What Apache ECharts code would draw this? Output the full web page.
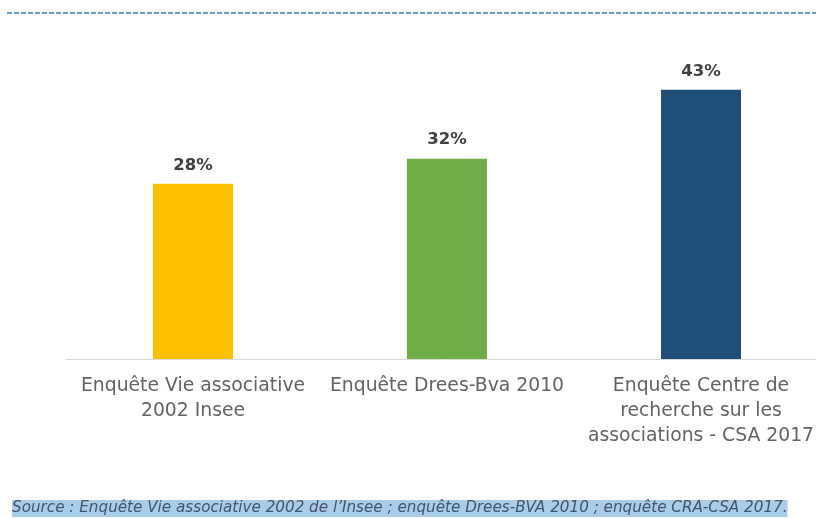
<!DOCTYPE html>
<html><head><meta charset="utf-8">
<script src="https://cdn.jsdelivr.net/npm/echarts@6/dist/echarts.min.js"></script>
<style>html,body{margin:0;padding:0;background:#fff}#c{width:816px;height:518px}</style>
</head><body><div id="c"></div>
<script>
const categories = ["Enquête Vie associative\n2002 Insee", "Enquête Drees-Bva 2010", "Enquête Centre de\nrecherche sur les\nassociations - CSA 2017"];
const values = [28, 32, 43];
const barColors = ["#ffc000", "#70ad47", "#1f4e79"];
const sourceText = "Source : Enquête Vie associative 2002 de l’Insee ; enquête Drees-BVA 2010 ; enquête CRA-CSA 2017.";

const chart = echarts.init(document.getElementById('c'));
chart.setOption({
  animation: false,
  grid: {left: 66, width: 762, top: 46, bottom: 159, outerBoundsMode: 'none', containLabel: false},
  xAxis: {
    type: 'category', data: categories,
    axisLine: {lineStyle: {color: '#d9d9d9', width: 1}},
    axisTick: {show: false},
    axisLabel: {fontFamily: 'DejaVu Sans', fontSize: 18.8, color: '#636363', lineHeight: 25, margin: 15, interval: 0}
  },
  yAxis: {type: 'value', min: 0, max: 50, show: false, splitLine: {show: false}},
  series: [{
    type: 'bar', barWidth: 80,
    data: values.map((v, i) => ({value: v, itemStyle: {color: barColors[i]}})),
    label: {show: true, position: 'top', distance: 10, formatter: '{c}%', fontFamily: 'DejaVu Sans', fontWeight: 'bold', fontSize: 16.5, color: '#404040'}
  }],
  graphic: [
    {type: 'line', shape: {x1: 7, y1: 13, x2: 816, y2: 13}, style: {stroke: '#6b9dc4', lineWidth: 2, lineDash: [5, 2]}},
    {type: 'text', left: 12, top: 500, style: {text: sourceText, font: 'italic 15.2px "DejaVu Sans"', fill: '#44546a', backgroundColor: '#a9cce9', padding: [1, 0, 1, 0]}}
  ]
});
</script></body></html>
